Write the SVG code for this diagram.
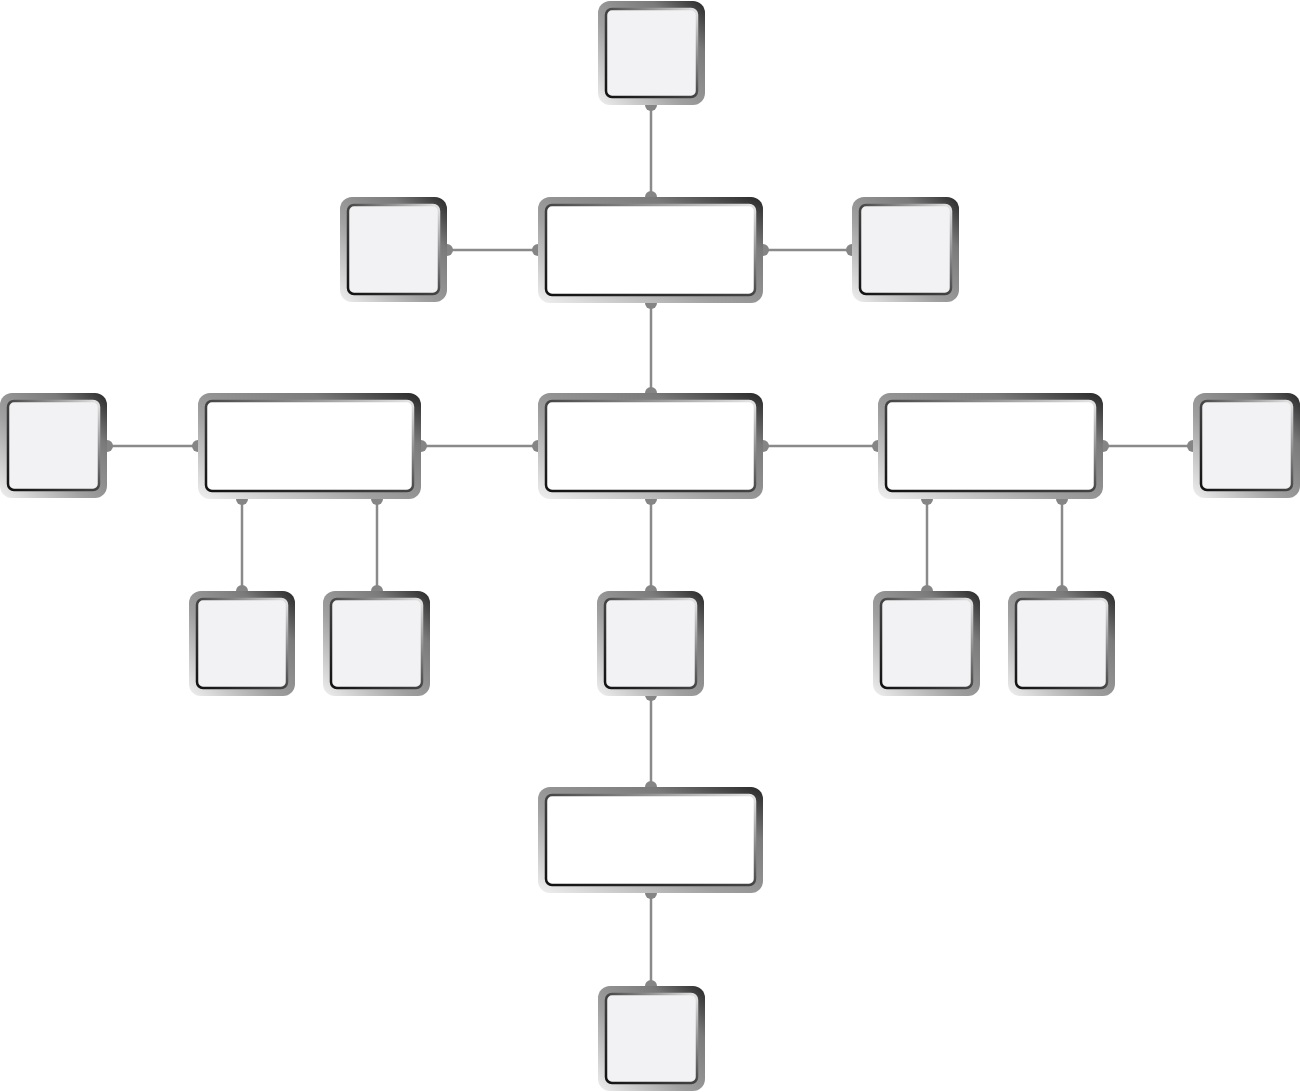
<svg xmlns="http://www.w3.org/2000/svg" width="1300" height="1092" viewBox="0 0 1300 1092">
<defs>
<linearGradient id="ring" x1="0" y1="1" x2="1" y2="0">
<stop offset="0" stop-color="#f0f0f0"/>
<stop offset="0.4" stop-color="#a0a0a0"/>
<stop offset="0.75" stop-color="#7a7a7a"/>
<stop offset="1" stop-color="#262626"/>
</linearGradient>
<linearGradient id="edge" x1="0" y1="1" x2="1" y2="0">
<stop offset="0" stop-color="#111"/>
<stop offset="0.5" stop-color="#444"/>
<stop offset="1" stop-color="#e6e6e6"/>
</linearGradient>
<style>
.o{fill:url(#ring)}
.i{fill:#f2f2f4;stroke:url(#edge);stroke-width:2.5}
.w{fill:#ffffff;stroke:url(#edge);stroke-width:2.5}
.c line{stroke:#8a8a8a;stroke-width:2.5}
.c circle{fill:#858585}
</style>
</defs>
<rect width="1300" height="1092" fill="#ffffff"/>
<g id="connectors" class="c">
<line x1="651" y1="104" x2="651" y2="197"/><circle cx="651" cy="105" r="6"/><circle cx="651" cy="197" r="6"/>
<line x1="447" y1="250" x2="538" y2="250"/><circle cx="447" cy="250" r="6"/><circle cx="538" cy="250" r="6"/>
<line x1="763" y1="250" x2="852" y2="250"/><circle cx="763" cy="250" r="6"/><circle cx="852" cy="250" r="6"/>
<line x1="651" y1="303" x2="651" y2="393"/><circle cx="651" cy="303" r="6"/><circle cx="651" cy="393" r="6"/>
<line x1="107" y1="446" x2="198" y2="446"/><circle cx="107" cy="446" r="6"/><circle cx="198" cy="446" r="6"/>
<line x1="421" y1="446" x2="538" y2="446"/><circle cx="421" cy="446" r="6"/><circle cx="538" cy="446" r="6"/>
<line x1="763" y1="446" x2="878" y2="446"/><circle cx="763" cy="446" r="6"/><circle cx="878" cy="446" r="6"/>
<line x1="1103" y1="446" x2="1193" y2="446"/><circle cx="1103" cy="446" r="6"/><circle cx="1193" cy="446" r="6"/>
<line x1="242" y1="499" x2="242" y2="591"/><circle cx="242" cy="499" r="6"/><circle cx="242" cy="591" r="6"/>
<line x1="377" y1="499" x2="377" y2="591"/><circle cx="377" cy="499" r="6"/><circle cx="377" cy="591" r="6"/>
<line x1="651" y1="499" x2="651" y2="591"/><circle cx="651" cy="499" r="6"/><circle cx="651" cy="591" r="6"/>
<line x1="927" y1="499" x2="927" y2="591"/><circle cx="927" cy="499" r="6"/><circle cx="927" cy="591" r="6"/>
<line x1="1062" y1="499" x2="1062" y2="591"/><circle cx="1062" cy="499" r="6"/><circle cx="1062" cy="591" r="6"/>
<line x1="651" y1="695" x2="651" y2="787"/><circle cx="651" cy="695" r="6"/><circle cx="651" cy="787" r="6"/>
<line x1="651" y1="893" x2="651" y2="986"/><circle cx="651" cy="893" r="6"/><circle cx="651" cy="986" r="6"/>
</g>
<g id="n-top" transform="translate(598,1)"><rect class="o" width="107" height="104" rx="12"/><rect class="i" x="8" y="8" width="91" height="88" rx="6"/></g>
<g id="n-r1-left" transform="translate(340,197)"><rect class="o" width="107" height="105" rx="12"/><rect class="i" x="8" y="8" width="91" height="89" rx="6"/></g>
<g id="n-r1-center" transform="translate(538,197)"><rect class="o" width="225" height="106" rx="12"/><rect class="w" x="8" y="8" width="209" height="90" rx="6"/></g>
<g id="n-r1-right" transform="translate(852,197)"><rect class="o" width="107" height="105" rx="12"/><rect class="i" x="8" y="8" width="91" height="89" rx="6"/></g>
<g id="n-r2-farleft" transform="translate(0,393)"><rect class="o" width="107" height="105" rx="12"/><rect class="i" x="8" y="8" width="91" height="89" rx="6"/></g>
<g id="n-r2-left" transform="translate(198,393)"><rect class="o" width="223" height="106" rx="12"/><rect class="w" x="8" y="8" width="207" height="90" rx="6"/></g>
<g id="n-r2-center" transform="translate(538,393)"><rect class="o" width="225" height="106" rx="12"/><rect class="w" x="8" y="8" width="209" height="90" rx="6"/></g>
<g id="n-r2-right" transform="translate(878,393)"><rect class="o" width="225" height="106" rx="12"/><rect class="w" x="8" y="8" width="209" height="90" rx="6"/></g>
<g id="n-r2-farright" transform="translate(1193,393)"><rect class="o" width="107" height="105" rx="12"/><rect class="i" x="8" y="8" width="91" height="89" rx="6"/></g>
<g id="n-r3-1" transform="translate(189,591)"><rect class="o" width="106" height="105" rx="12"/><rect class="i" x="8" y="8" width="90" height="89" rx="6"/></g>
<g id="n-r3-2" transform="translate(323,591)"><rect class="o" width="107" height="105" rx="12"/><rect class="i" x="8" y="8" width="91" height="89" rx="6"/></g>
<g id="n-r3-3" transform="translate(597,591)"><rect class="o" width="107" height="105" rx="12"/><rect class="i" x="8" y="8" width="91" height="89" rx="6"/></g>
<g id="n-r3-4" transform="translate(873,591)"><rect class="o" width="107" height="105" rx="12"/><rect class="i" x="8" y="8" width="91" height="89" rx="6"/></g>
<g id="n-r3-5" transform="translate(1008,591)"><rect class="o" width="107" height="105" rx="12"/><rect class="i" x="8" y="8" width="91" height="89" rx="6"/></g>
<g id="n-r4" transform="translate(538,787)"><rect class="o" width="225" height="106" rx="12"/><rect class="w" x="8" y="8" width="209" height="90" rx="6"/></g>
<g id="n-bottom" transform="translate(598,986)"><rect class="o" width="107" height="105" rx="12"/><rect class="i" x="8" y="8" width="91" height="89" rx="6"/></g>
</svg>
